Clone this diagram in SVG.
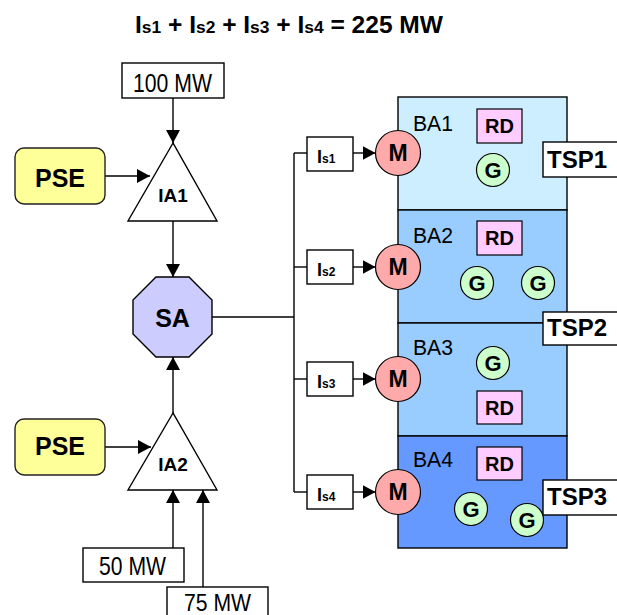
<svg xmlns="http://www.w3.org/2000/svg" width="617" height="615" viewBox="0 0 617 615">
<defs>
<marker id="ah" markerUnits="userSpaceOnUse" markerWidth="14" markerHeight="14" refX="13" refY="7" orient="auto">
<path d="M0,0 L13,7 L0,14 z" fill="#000"/>
</marker>
<style>
.t{font-family:"Liberation Sans",Arial,sans-serif;font-weight:bold;fill:#000}
.n{font-family:"Liberation Sans Narrow","Liberation Sans",Arial,sans-serif;fill:#000}
.c{text-anchor:middle}
.box{fill:#fff;stroke:#000;stroke-width:1.4}
.pse{fill:#ffff99;stroke:#222;stroke-width:1.4}
.tri{fill:#fff;stroke:#000;stroke-width:1.4}
.ba{stroke:#000;stroke-width:1.4}
.m{fill:#ffaaaa;stroke:#000;stroke-width:1.2}
.g{fill:#ccffcc;stroke:#000;stroke-width:1.2}
.rd{fill:#ffccff;stroke:#000;stroke-width:1.2}
.ln{fill:none;stroke:#000;stroke-width:1.4}
</style>
</defs>
<rect width="617" height="615" fill="#fff"/>

<text id="title" class="t" x="135" y="33" font-size="24" textLength="308" lengthAdjust="spacingAndGlyphs">I<tspan font-size="17">s1</tspan> + I<tspan font-size="17">s2</tspan> + I<tspan font-size="17">s3</tspan> + I<tspan font-size="17">s4</tspan> = 225 MW</text>

<g id="BA1"><rect class="ba" x="398" y="97" width="169" height="113" fill="#cceeff"/><text class="n" x="413" y="131" font-size="22" textLength="40" lengthAdjust="spacingAndGlyphs">BA1</text></g>
<g id="BA2"><rect class="ba" x="398" y="210" width="169" height="113" fill="#99ccff"/><text class="n" x="413" y="243" font-size="22" textLength="40" lengthAdjust="spacingAndGlyphs">BA2</text></g>
<g id="BA3"><rect class="ba" x="398" y="323" width="169" height="113" fill="#99ccff"/><text class="n" x="413" y="355" font-size="22" textLength="40" lengthAdjust="spacingAndGlyphs">BA3</text></g>
<g id="BA4"><rect class="ba" x="398" y="436" width="169" height="112" fill="#6699ff"/><text class="n" x="413" y="467" font-size="22" textLength="40" lengthAdjust="spacingAndGlyphs">BA4</text></g>

<g id="RD1"><rect class="rd" x="477" y="109" width="45" height="34"/><text class="t c" x="499.5" y="133" font-size="20">RD</text></g>
<g id="RD2"><rect class="rd" x="477" y="221" width="45" height="34"/><text class="t c" x="499.5" y="245" font-size="20">RD</text></g>
<g id="RD3"><rect class="rd" x="477" y="391" width="45" height="33"/><text class="t c" x="499.5" y="414.5" font-size="20">RD</text></g>
<g id="RD4"><rect class="rd" x="477" y="447" width="45" height="33"/><text class="t c" x="499.5" y="470.5" font-size="20">RD</text></g>

<g id="G1"><circle class="g" cx="493" cy="170" r="16.5"/><text class="t c" x="493" y="178" font-size="22">G</text></g>
<g id="G2a"><circle class="g" cx="477" cy="283" r="16.5"/><text class="t c" x="477" y="291" font-size="22">G</text></g>
<g id="G2b"><circle class="g" cx="538" cy="283" r="16.5"/><text class="t c" x="538" y="291" font-size="22">G</text></g>
<g id="G3"><circle class="g" cx="493" cy="363" r="16.5"/><text class="t c" x="493" y="371" font-size="22">G</text></g>
<g id="G4a"><circle class="g" cx="471" cy="509" r="16.5"/><text class="t c" x="471" y="517" font-size="22">G</text></g>
<g id="G4b"><circle class="g" cx="527" cy="520" r="16.5"/><text class="t c" x="527" y="528" font-size="22">G</text></g>

<g id="TSP1"><rect class="box" x="543" y="142" width="80" height="35"/><text class="t" x="547" y="168" font-size="24">TSP1</text></g>
<g id="TSP2"><rect class="box" x="543" y="312" width="80" height="33"/><text class="t" x="547" y="336" font-size="24">TSP2</text></g>
<g id="TSP3"><rect class="box" x="543" y="480" width="80" height="35"/><text class="t" x="547" y="505" font-size="24">TSP3</text></g>

<g id="connectors">
<line class="ln" x1="173" y1="98" x2="173" y2="143" marker-end="url(#ah)"/>
<line class="ln" x1="105" y1="176" x2="150" y2="176" marker-end="url(#ah)"/>
<line class="ln" x1="173" y1="221" x2="173" y2="277" marker-end="url(#ah)"/>
<line class="ln" x1="173" y1="413" x2="173" y2="357" marker-end="url(#ah)"/>
<line class="ln" x1="105" y1="447" x2="151" y2="447" marker-end="url(#ah)"/>
<line class="ln" x1="173" y1="548" x2="173" y2="490" marker-end="url(#ah)"/>
<line class="ln" x1="203" y1="587" x2="203" y2="490" marker-end="url(#ah)"/>
<line class="ln" x1="212" y1="317" x2="294" y2="317"/>
<line class="ln" x1="294" y1="153" x2="294" y2="492"/>
<line class="ln" x1="294" y1="153" x2="307" y2="153"/>
<line class="ln" x1="294" y1="267" x2="307" y2="267"/>
<line class="ln" x1="294" y1="379" x2="307" y2="379"/>
<line class="ln" x1="294" y1="492" x2="307" y2="492"/>
<line class="ln" x1="353" y1="153" x2="375.5" y2="153" marker-end="url(#ah)"/>
<line class="ln" x1="353" y1="267" x2="375.5" y2="267" marker-end="url(#ah)"/>
<line class="ln" x1="353" y1="379" x2="375.5" y2="379" marker-end="url(#ah)"/>
<line class="ln" x1="353" y1="492" x2="375.5" y2="492" marker-end="url(#ah)"/>
</g>

<g id="MW100"><rect class="box" x="122" y="63" width="102" height="35"/><text class="n" x="133" y="92" font-size="25" textLength="79" lengthAdjust="spacingAndGlyphs">100 MW</text></g>
<g id="PSE1"><rect class="pse" x="15" y="148" width="90" height="56" rx="9"/><text class="t c" x="60" y="187" font-size="25">PSE</text></g>
<g id="IA1"><polygon class="tri" points="173,143 128,221 217,221"/><text class="t c" x="173" y="202" font-size="19">IA1</text></g>
<g id="SA"><polygon points="156,277 189,277 212,300 212,334 189,357 156,357 133,334 133,300" fill="#ccccff" stroke="#000" stroke-width="1.4"/><text class="t c" x="172.5" y="327" font-size="25">SA</text></g>
<g id="PSE2"><rect class="pse" x="15" y="419" width="90" height="56" rx="9"/><text class="t c" x="60" y="455" font-size="25">PSE</text></g>
<g id="IA2"><polygon class="tri" points="173,413 128,490 217,490"/><text class="t c" x="173" y="471" font-size="19">IA2</text></g>
<g id="MW50"><rect class="box" x="83" y="548" width="101" height="34"/><text class="n" x="99" y="575" font-size="25" textLength="67" lengthAdjust="spacingAndGlyphs">50 MW</text></g>
<g id="MW75"><rect class="box" x="167" y="587" width="101" height="36"/><text class="n" x="184" y="611" font-size="24" textLength="67" lengthAdjust="spacingAndGlyphs">75 MW</text></g>

<g id="Is1"><rect class="box" x="307" y="137" width="46" height="34"/><text class="t" x="317" y="163" font-size="18">I<tspan font-size="12">s1</tspan></text></g>
<g id="Is2"><rect class="box" x="307" y="250" width="46" height="34"/><text class="t" x="317" y="276" font-size="18">I<tspan font-size="12">s2</tspan></text></g>
<g id="Is3"><rect class="box" x="307" y="362" width="46" height="34"/><text class="t" x="317" y="388" font-size="18">I<tspan font-size="12">s3</tspan></text></g>
<g id="Is4"><rect class="box" x="307" y="475" width="46" height="34"/><text class="t" x="317" y="501" font-size="18">I<tspan font-size="12">s4</tspan></text></g>

<g id="M1"><circle class="m" cx="398" cy="153" r="22.5"/><text class="t c" x="398" y="161" font-size="23">M</text></g>
<g id="M2"><circle class="m" cx="398" cy="267" r="22.5"/><text class="t c" x="398" y="275" font-size="23">M</text></g>
<g id="M3"><circle class="m" cx="398" cy="379" r="22.5"/><text class="t c" x="398" y="387" font-size="23">M</text></g>
<g id="M4"><circle class="m" cx="398" cy="492" r="22.5"/><text class="t c" x="398" y="500" font-size="23">M</text></g>
</svg>
